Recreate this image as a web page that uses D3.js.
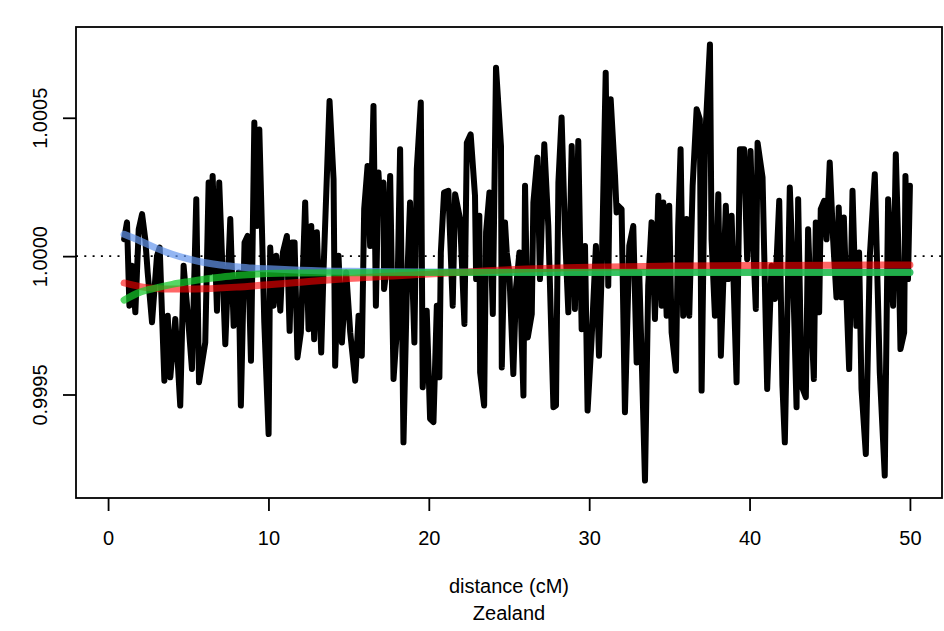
<!DOCTYPE html>
<html>
<head>
<meta charset="utf-8">
<script src="https://cdn.jsdelivr.net/npm/d3@7"></script>
<style>
  html, body { margin: 0; padding: 0; background: #fff; }
  svg { display: block; font-family: "Liberation Sans", Arial, Helvetica, sans-serif; }
</style>
</head>
<body>
<div id="chart"></div>
<script>
// black series: distance (cM) and ratio at its turning points
const distance = [
  1.00, 1.18, 1.33, 1.49, 1.70, 1.91, 2.12, 2.32, 2.47, 2.74, 3.05, 3.22, 3.36, 3.51, 3.72, 3.88, 4.19, 4.50, 4.71, 4.96,
  5.23, 5.50, 5.67, 6.06, 6.27, 6.37, 6.52, 6.79, 6.93, 7.31, 7.62, 7.83, 8.14, 8.28, 8.51,
  8.70, 8.91, 9.12, 9.28, 9.43, 9.59, 9.74, 10.01, 10.11, 10.32, 10.49, 10.74, 10.90, 11.15, 11.32, 11.46, 11.63, 11.81,
  12.02, 12.29, 12.50, 12.67, 12.85, 13.02, 13.29, 13.43, 13.81, 14.06, 14.16, 14.37, 14.58, 14.85, 15.10, 15.41, 15.62,
  15.82, 15.97, 16.18, 16.34, 16.55,
  16.70, 16.86, 16.97, 17.17, 17.21, 17.34, 17.59, 17.80, 18.00, 18.21, 18.42, 18.63, 18.83, 19.10, 19.25, 19.50, 19.62,
  19.87, 20.08, 20.29, 20.50, 20.66, 20.75, 20.95, 21.22, 21.49, 21.64, 21.95, 22.22, 22.37, 22.61, 22.88, 22.95, 23.15,
  23.20, 23.45, 23.57, 23.78, 23.99, 24.19, 24.50, 24.55, 24.75,
  24.86, 25.02, 25.27, 25.44, 25.65, 25.79, 25.90, 26.00, 26.17, 26.42, 26.52, 26.77, 26.93, 27.20, 27.45, 27.77, 27.93,
  28.08, 28.28, 28.49, 28.70, 28.91, 29.11, 29.32, 29.53, 29.74, 29.90, 30.15, 30.42, 30.61, 30.78, 31.03, 31.19, 31.34,
  31.61, 31.71, 31.81, 32.02, 32.23, 32.50, 32.75,
  32.96, 33.12, 33.27, 33.48, 33.68, 33.89, 34.10, 34.31, 34.52, 34.62, 34.83, 34.99, 35.14, 35.41, 35.55, 35.70, 35.86,
  36.07, 36.24, 36.45, 36.70, 36.90, 37.01, 37.22, 37.53, 37.63, 37.84, 38.05, 38.21, 38.52, 38.67, 38.88, 39.19, 39.40,
  39.66, 39.85, 40.06, 40.23, 40.39, 40.50, 40.81,
  41.10, 41.37, 41.58, 41.85, 42.05, 42.20, 42.51, 42.72, 42.93, 43.03, 43.24, 43.51, 43.65, 43.86, 44.01, 44.13, 44.34,
  44.44, 44.65, 44.80, 45.00, 45.21, 45.42, 45.56, 45.73, 45.88, 46.04, 46.21, 46.42, 46.66, 46.83, 46.98, 47.25, 47.50,
  47.81, 48.12, 48.43, 48.64, 48.95, 49.12, 49.32, 49.41, 49.64, 49.72, 49.88, 50.00
];
const ratio = [
  1.000061, 1.000122, 0.999821, 0.999965, 0.999797, 1.000097, 1.000152, 1.000061, 0.999941, 0.999761, 1.000001, 1.000031,
  0.999797, 0.999550, 0.999785, 0.999562, 0.999773, 0.999460, 0.999965, 0.999797,
  0.999592, 1.000206, 0.999544, 0.999688, 1.000266, 0.999941, 1.000290, 0.999803, 1.000266, 0.999682, 1.000134, 0.999748,
  0.999941, 0.999460, 1.000049,
  1.000073, 0.999622, 1.000483, 1.000109, 1.000458, 1.000109, 0.999761, 0.999357, 1.000031, 0.999821, 1.000001, 0.999803,
  1.000013, 1.000073, 0.999730, 1.000049, 1.000049, 0.999634,
  0.999724, 1.000194, 0.999736, 1.000109, 0.999700, 1.000086, 0.999652, 0.999941, 1.000561, 1.000278, 0.999604, 1.000001,
  0.999688, 0.999941, 0.999724, 0.999550, 0.999785,
  0.999640, 1.000170, 1.000326, 1.000037, 1.000543,
  0.999821, 1.000302, 1.000182, 1.000266, 0.999881, 0.999941, 1.000290, 0.999556, 0.999724, 1.000386, 0.999327, 0.999881,
  1.000194, 0.999688, 1.000314, 1.000555, 0.999526,
  0.999803, 0.999412, 0.999400, 0.999821, 0.999562, 1.000013, 1.000230, 1.000236, 0.999821, 1.000224, 1.000134, 0.999755,
  1.000410, 1.000440, 1.000218, 0.999917, 1.000146,
  0.999580, 0.999460, 1.000086, 1.000230, 0.999791, 1.000681, 1.000398, 0.999598, 1.000122,
  1.000013, 0.999941, 0.999574, 0.999887, 1.000013, 0.999700, 0.999496, 1.000254, 0.999706, 0.999791, 1.000194, 1.000356,
  0.999917, 1.000404, 1.000109, 0.999454, 0.999460,
  1.000266, 1.000501, 1.000086, 0.999797, 1.000398, 0.999809, 1.000416, 0.999736, 1.000037, 0.999442, 0.999700, 1.000037,
  0.999640, 0.999941, 1.000663, 0.999893, 1.000567,
  1.000290, 1.000158, 1.000182, 1.000170, 0.999436, 1.000037, 1.000109,
  0.999616, 0.999941, 0.999640, 0.999189, 0.999893, 1.000122, 0.999773, 1.000218, 0.999821, 1.000194, 0.999785, 1.000182,
  0.999724, 0.999586, 1.000109, 1.000386, 0.999785,
  1.000134, 0.999785, 1.000254, 1.000531, 1.000495, 0.999514, 1.000410, 1.000765, 1.000061, 0.999785, 1.000224, 0.999640,
  1.000182, 0.999917, 1.000146, 0.999544, 1.000386,
  1.000386, 0.999989, 1.000380, 1.000037, 0.999809, 1.000410, 1.000284,
  0.999520, 0.999965, 0.999845, 1.000200, 0.999532, 0.999327, 1.000248, 0.999917, 0.999454, 1.000206, 0.999532, 0.999490,
  1.000097, 0.999761, 0.999556, 1.000122, 0.999797,
  1.000170, 1.000200, 1.000061, 1.000338, 1.000061, 0.999851, 1.000176, 0.999851, 1.000140, 0.999857, 0.999592, 1.000236,
  0.999748, 1.000013, 0.999520, 0.999285, 1.000001,
  1.000296, 0.999580, 0.999207, 1.000206, 0.999821, 1.000368, 0.999941, 0.999664, 0.999724, 1.000290, 0.999917, 1.000254
];

// fitted curves
const blueDist = [1, 2, 3, 4, 5, 6, 7, 8, 9, 10, 12, 15, 20, 30, 40, 50];
const blueFit = [1.000079, 1.000055, 1.000029, 1.000007, 0.999990, 0.999977, 0.999968, 0.999962, 0.999957, 0.999954,
  0.999949, 0.999945, 0.999943, 0.999942, 0.999942, 0.999942];
const redDist = [1, 2, 3, 4, 5, 6, 8, 10, 12, 15, 20, 25, 30, 35, 40, 45, 50];
const redFit = [0.999903, 0.999890, 0.999883, 0.999881, 0.999881, 0.999882, 0.999888, 0.999897, 0.999906, 0.999919,
  0.999935, 0.999951, 0.999960, 0.999964, 0.999966, 0.999967, 0.999968];
const greenDist = [1, 2, 3, 4, 5, 6, 7, 8, 9, 10, 12, 15, 20, 30, 40, 50];
const greenFit = [0.999841, 0.999870, 0.999885, 0.999898, 0.999908, 0.999917, 0.999924, 0.999930, 0.999934, 0.999937,
  0.999939, 0.999940, 0.999941, 0.999941, 0.999941, 0.999941];

const xLimits = [0, 50];
const xTicks = [0, 10, 20, 30, 40, 50];
const yTicks = [0.9995, 1.0000, 1.0005];
const yTickLabels = ["0.9995", "1.0000", "1.0005"];
const refLine = 1;
const xTitle = "distance (cM)";
const subTitle = "Zealand";

const W = 944, H = 631;
const margin = { top: 27, right: 2, bottom: 133, left: 76 };
const pw = W - margin.left - margin.right;
const ph = H - margin.top - margin.bottom;

// R style 4% axis expansion
function expand(lo, hi) {
  const p = (hi - lo) * 0.04;
  return [lo - p, hi + p];
}

const x = d3.scaleLinear().domain(expand(xLimits[0], xLimits[1])).range([0, pw]);
const y = d3.scaleLinear().domain(expand(d3.min(ratio), d3.max(ratio))).range([ph, 0]);

const svg = d3.select("#chart").append("svg")
  .attr("width", W)
  .attr("height", H);

svg.append("rect").attr("width", W).attr("height", H).attr("fill", "#fff");

const g = svg.append("g").attr("transform", `translate(${margin.left},${margin.top})`);

g.append("clipPath").attr("id", "plotclip")
  .append("rect").attr("width", pw).attr("height", ph);

const plot = g.append("g").attr("clip-path", "url(#plotclip)");

const line = d3.line().x(d => x(d[0])).y(d => y(d[1]));
const smooth = d3.line().x(d => x(d[0])).y(d => y(d[1])).curve(d3.curveMonotoneX);

plot.append("path")
  .datum(d3.zip(distance, ratio))
  .attr("d", line)
  .attr("fill", "none")
  .attr("stroke", "#000")
  .attr("stroke-width", 6)
  .attr("stroke-linejoin", "round")
  .attr("stroke-linecap", "round");

plot.append("line")
  .attr("x1", 0).attr("x2", pw)
  .attr("y1", y(refLine)).attr("y2", y(refLine))
  .attr("stroke", "#000")
  .attr("stroke-width", 1.6)
  .attr("stroke-dasharray", "2,6.3");

const fits = [
  { d: blueDist, v: blueFit, c: "rgba(100,149,237,0.7)" },
  { d: redDist, v: redFit, c: "rgba(255,0,0,0.6)" },
  { d: greenDist, v: greenFit, c: "rgba(20,200,40,0.72)" }
];

fits.forEach(f => {
  plot.append("path")
    .datum(d3.zip(f.d, f.v))
    .attr("d", smooth)
    .attr("fill", "none")
    .attr("stroke", f.c)
    .attr("stroke-width", 7)
    .attr("stroke-linecap", "round")
    .attr("stroke-linejoin", "round");
});

// axes
const xAxis = g.append("g")
  .attr("transform", `translate(0,${ph})`)
  .call(d3.axisBottom(x).tickValues(xTicks).tickSize(13).tickPadding(20).tickFormat(d3.format("d")));
xAxis.select(".domain").remove();
xAxis.selectAll("line").attr("stroke-width", 1.8);
xAxis.selectAll("text")
  .style("font-size", "20px")
  .style("font-family", "Liberation Sans, Arial, sans-serif")
  .attr("fill", "#000");

const yAxis = g.append("g")
  .call(d3.axisLeft(y).tickValues(yTicks).tickSize(13).tickFormat((d, i) => yTickLabels[i]));
yAxis.select(".domain").remove();
yAxis.selectAll("line").attr("stroke-width", 1.8);
yAxis.selectAll("text")
  .attr("transform", "rotate(-90)")
  .attr("x", 0)
  .attr("y", -29)
  .attr("dy", 0)
  .attr("text-anchor", "middle")
  .style("font-size", "20px")
  .style("font-family", "Liberation Sans, Arial, sans-serif")
  .attr("fill", "#000");

g.append("rect")
  .attr("width", pw).attr("height", ph)
  .attr("fill", "none")
  .attr("stroke", "#000")
  .attr("stroke-width", 1.8);

svg.append("text")
  .attr("x", margin.left + pw / 2)
  .attr("y", 592.5)
  .attr("text-anchor", "middle")
  .style("font-size", "20px")
  .text(xTitle);

svg.append("text")
  .attr("x", margin.left + pw / 2)
  .attr("y", 620)
  .attr("text-anchor", "middle")
  .style("font-size", "20px")
  .text(subTitle);
</script>
</body>
</html>
